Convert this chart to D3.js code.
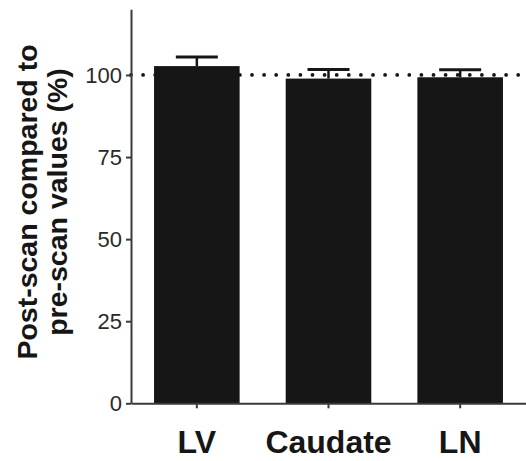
<!DOCTYPE html>
<html>
<head>
<meta charset="utf-8">
<script src="https://cdn.jsdelivr.net/npm/d3@7"></script>
<style>
  html, body { margin: 0; padding: 0; background: #ffffff; }
  svg { display: block; }
</style>
</head>
<body>
<div id="chart"></div>
<script>
const categories = ["LV", "Caudate", "LN"];
const means = [102.7, 98.9, 99.3];
const errorUpper = [105.5, 101.7, 101.6];
const yTicks = [0, 25, 50, 75, 100];
const referenceValue = 100;
const yTitleLines = ["Post-scan compared to", "pre-scan values (%)"];

const W = 526, H = 461;
const svg = d3.select("#chart").append("svg").attr("width", W).attr("height", H);

const x = d3.scaleBand().domain(categories).range([131, 526]).paddingInner(0.35).paddingOuter(0.175);
const y = d3.scaleLinear().domain([0, 120]).range([403.3, 9.3]);

const ink = "#161616";
const axisCol = "#3a3a3a";

// bars
svg.append("g").selectAll("rect").data(categories).join("rect")
  .attr("x", d => x(d))
  .attr("width", x.bandwidth())
  .attr("y", (d, i) => y(means[i]))
  .attr("height", (d, i) => y(0) - y(means[i]))
  .attr("fill", ink);

// error bars (upper only)
const eb = svg.append("g").attr("stroke", ink).attr("fill", "none");
eb.selectAll("line.stem").data(categories).join("line").attr("class", "stem")
  .attr("x1", d => x(d) + x.bandwidth() / 2).attr("x2", d => x(d) + x.bandwidth() / 2)
  .attr("y1", (d, i) => y(means[i])).attr("y2", (d, i) => y(errorUpper[i]))
  .attr("stroke-width", 2.5);
eb.selectAll("line.cap").data(categories).join("line").attr("class", "cap")
  .attr("x1", d => x(d) + x.bandwidth() / 2 - 21).attr("x2", d => x(d) + x.bandwidth() / 2 + 21)
  .attr("y1", (d, i) => y(errorUpper[i])).attr("y2", (d, i) => y(errorUpper[i]))
  .attr("stroke-width", 3);

// dotted reference line
svg.append("line")
  .attr("x1", 131).attr("x2", 526)
  .attr("y1", y(referenceValue)).attr("y2", y(referenceValue))
  .attr("stroke", ink).attr("stroke-width", 3.8)
  .attr("stroke-linecap", "round").attr("stroke-dasharray", "0 12.1");

// y axis
const gy = svg.append("g").attr("transform", "translate(131,0)")
  .call(d3.axisLeft(y).tickValues(yTicks).tickSize(5).tickSizeOuter(0).tickPadding(4));
gy.select(".domain").attr("stroke", axisCol).attr("stroke-width", 2);
gy.selectAll(".tick line").attr("stroke", axisCol).attr("stroke-width", 2);
gy.selectAll(".tick text").attr("font-family", "'Liberation Sans', Arial, sans-serif")
  .attr("font-size", 22).attr("fill", "#2a2a2a");

// x axis
const gx = svg.append("g").attr("transform", `translate(0,${y(0)})`)
  .call(d3.axisBottom(x).tickSize(5).tickSizeOuter(0));
gx.select(".domain").attr("stroke", axisCol).attr("stroke-width", 2);
gx.selectAll(".tick line").attr("stroke", axisCol).attr("stroke-width", 2);
gx.selectAll(".tick text").attr("font-family", "'Liberation Sans', Arial, sans-serif")
  .attr("font-size", 32).attr("font-weight", "bold").attr("fill", ink)
  .attr("y", 50).attr("dy", 0);

// y title
const tx = [36.7, 67.2];
svg.append("g").selectAll("text").data(yTitleLines).join("text")
  .attr("transform", (d, i) => `translate(${tx[i]},202) rotate(-90)`)
  .attr("text-anchor", "middle")
  .attr("font-family", "'Liberation Sans', Arial, sans-serif")
  .attr("font-size", 28.5).attr("font-weight", "bold").attr("fill", ink)
  .text(d => d);
</script>
</body>
</html>
